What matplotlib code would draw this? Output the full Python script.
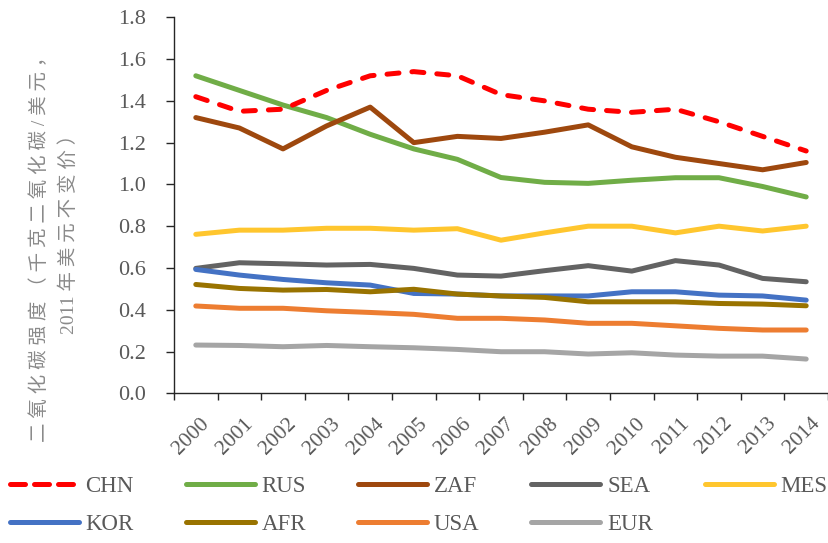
import numpy as np
import matplotlib.pyplot as plt
from matplotlib.lines import Line2D
from matplotlib.transforms import ScaledTranslation

## DATA
# carbon intensity by region, 2000-2014
years = [str(y) for y in range(2000, 2015)]
regions = ['CHN', 'RUS', 'ZAF', 'SEA', 'MES', 'KOR', 'AFR', 'USA', 'EUR']
chn = [1.42, 1.35, 1.36, 1.45, 1.52, 1.54, 1.52, 1.43, 1.40, 1.36, 1.345, 1.36, 1.30, 1.23, 1.16]
rus = [1.52, 1.45, 1.38, 1.32, 1.24, 1.17, 1.12, 1.033, 1.01, 1.005, 1.02, 1.032, 1.032, 0.99, 0.94]
zaf = [1.32, 1.27, 1.17, 1.28, 1.37, 1.20, 1.23, 1.22, 1.25, 1.285, 1.18, 1.13, 1.10, 1.07, 1.105]
sea = [0.598, 0.625, 0.62, 0.614, 0.617, 0.598, 0.566, 0.561, 0.587, 0.611, 0.585, 0.635, 0.614, 0.55, 0.534]
mes = [0.761, 0.781, 0.781, 0.79, 0.79, 0.781, 0.788, 0.733, 0.768, 0.80, 0.80, 0.768, 0.80, 0.777, 0.80]
kor = [0.593, 0.566, 0.545, 0.529, 0.518, 0.478, 0.475, 0.466, 0.466, 0.466, 0.486, 0.486, 0.47, 0.466, 0.446]
afr = [0.521, 0.502, 0.494, 0.497, 0.486, 0.498, 0.475, 0.466, 0.459, 0.438, 0.438, 0.438, 0.43, 0.427, 0.419]
usa = [0.418, 0.407, 0.407, 0.395, 0.387, 0.378, 0.359, 0.359, 0.351, 0.335, 0.335, 0.323, 0.311, 0.303, 0.303]
eur = [0.231, 0.229, 0.223, 0.229, 0.223, 0.218, 0.21, 0.199, 0.199, 0.188, 0.194, 0.183, 0.178, 0.178, 0.164]
series = [chn, rus, zaf, sea, mes, kor, afr, usa, eur]
colors = ['#FF0000', '#70AD47', '#9E480E', '#636363', '#FFC62E',
          '#4472C4', '#997300', '#ED7D31', '#A5A5A5']
ylabel1 = '二氧化碳强度（千克二氧化碳/美元，'
ylabel2 = '2011年美元不变价）'

## PLOT
plt.rcParams['font.family'] = ['Liberation Serif', 'Noto Sans CJK SC', 'DejaVu Sans']
W, H = 829, 543
fig = plt.figure(figsize=(W / 100, H / 100), dpi=100)
ax = fig.add_axes([174 / W, 1 - 393.3 / H, (828 - 174) / W, (393.3 - 17.3) / H])

x = np.arange(len(years))
for name, vals, c in zip(regions, series, colors):
    if name == 'CHN':
        ax.plot(x, vals, color=c, lw=3.6, linestyle=(0, (2.4, 2.6)),
                dash_capstyle='round', zorder=5, label=name)
    else:
        ax.plot(x, vals, color=c, lw=3.6, solid_capstyle='round',
                zorder=3, label=name)

ax.set_xlim(-0.5, len(years) - 0.5)
ax.set_ylim(0, 1.8)
ax.set_yticks(np.arange(0, 1.81, 0.2))
ax.set_yticklabels(['%.1f' % v for v in np.arange(0, 1.81, 0.2)])
ax.set_xticks(x)
ax.set_xticklabels(years, rotation=45, ha='right', va='top', rotation_mode='anchor')
ax.set_xticks(np.arange(-0.5, len(years), 1), minor=True)
ax.tick_params(axis='x', which='major', length=0, pad=15, labelsize=15.5, labelcolor='#595959')
ax.tick_params(axis='x', which='minor', length=5, width=1, color='#262626', direction='out')
ax.tick_params(axis='y', length=6, width=1, color='#262626', pad=14, labelsize=16,
               labelcolor='#595959')
# nudge the rotated year labels a little to the right
shift = ScaledTranslation(4 / 100, 0, fig.dpi_scale_trans)
for lab in ax.get_xticklabels():
    lab.set_transform(lab.get_transform() + shift)
ax.spines['top'].set_visible(False)
ax.spines['right'].set_visible(False)
for s in ['left', 'bottom']:
    ax.spines[s].set_color('#262626')
    ax.spines[s].set_linewidth(1)

# y label as two spaced lines
sp1 = ' '.join(ylabel1)
sp2 = ' '.join(['2011'] + list(ylabel2[4:]))
fig.text(40 / W, 1 - 244 / H, sp1, rotation=90, ha='center', va='center',
         fontsize=14, color='#8A8A8A')
fig.text(68 / W, 1 - 229 / H, sp2, rotation=90, ha='center', va='center',
         fontsize=14, color='#8A8A8A')

# legend: 5 columns, filled row by row
order = [0, 5, 1, 6, 2, 7, 3, 8, 4]
handles = []
for i in order:
    ls = (0, (3.0, 1.8)) if regions[i] == 'CHN' else '-'
    handles.append(Line2D([], [], color=colors[i], lw=3.6, linestyle=ls,
                          dash_capstyle='round', solid_capstyle='round'))
fig.legend(handles, [regions[i] for i in order], ncol=5, loc='upper left',
           bbox_to_anchor=(10 / W, 1 - 476 / H), frameon=False, fontsize=16.5,
           handlelength=3.0, handletextpad=0.3, columnspacing=2.27,
           labelspacing=0.72, borderpad=0, borderaxespad=0, labelcolor='#595959')

fig.savefig('out.png', dpi=100)
